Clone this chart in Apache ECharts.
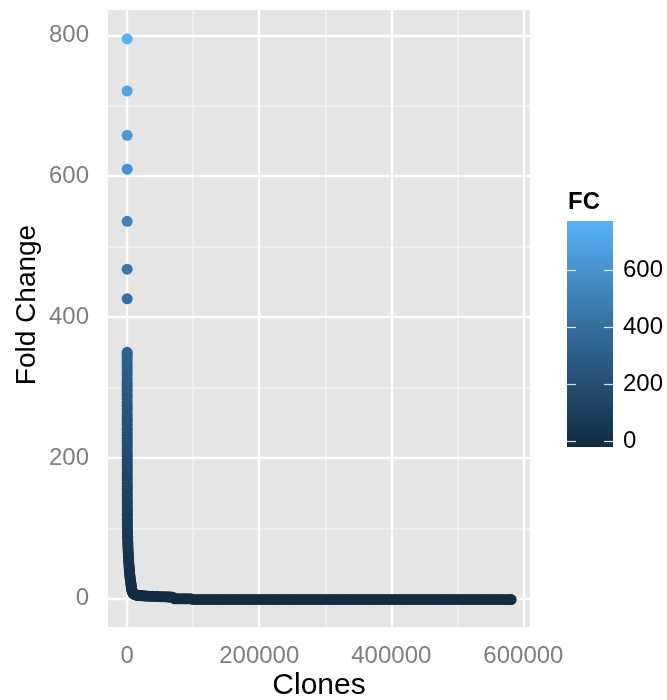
<!DOCTYPE html>
<html>
<head>
<meta charset="utf-8">
<script src="https://cdn.jsdelivr.net/npm/echarts@6/dist/echarts.min.js"></script>
<style>
  html, body { margin: 0; padding: 0; background: #ffffff; }
  #chart { width: 667px; height: 700px; }
</style>
</head>
<body>
<div id="chart"></div>
<script>
// Fold change per clone, clones ranked by decreasing fold change.
// The few top clones stand apart.
const headRank = [1, 2, 3, 4, 5, 6, 7];
const headFC = [795, 721, 658, 610, 536, 468, 426];

// Dense column of high fold changes near rank 0.
const stackRank = [8, 9, 10, 11, 12, 13, 14, 15, 16, 17, 18, 19, 20, 22, 24, 26, 28, 30, 32, 34,
  36, 38, 40, 43, 46, 49, 52, 55, 58, 61, 64, 68, 72, 76, 80, 84, 88, 92,
  97, 102, 108, 114, 120, 127, 134, 142, 150, 158, 167, 176, 186, 196, 207, 218, 230, 243, 256, 270,
  285, 300, 316, 333, 351, 370, 390,
  450, 520, 600, 690, 790, 900, 1020, 1150, 1290, 1440, 1600, 1770, 1950, 2140, 2340, 2550, 2770, 3000,
  3240, 3490, 3750, 4020, 4300, 4590, 4890, 5200];
const stackFC = [350, 347, 343, 339, 334, 330, 325, 321, 317, 312, 307, 304, 300, 296, 291, 288, 284, 279, 275, 271,
  268, 263, 259, 255, 252, 248, 243, 240, 236, 232, 228, 224, 221, 217, 213, 209, 205, 202,
  198, 194, 190, 187, 183, 179, 175, 172, 168, 164, 160, 157, 153, 149, 146, 142, 138, 135, 131, 127,
  124, 120, 117, 113, 110, 106, 103,
  99, 96, 92, 89, 86, 82, 79, 76, 73, 69, 66, 63, 60, 57, 54, 51, 48, 45,
  42, 40, 37, 34, 32, 29, 27, 25];

// Bend of the curve into the long low tail.
const kneeRank = [5500, 5750, 6000, 6250, 6500, 6800, 7100, 7400, 7800, 8200,
  8700, 9200, 9800, 10500, 11300, 12200, 13200, 14300, 15500, 17000,
  18500, 20000, 22000, 24000, 26500, 29000, 32000, 35000, 38000, 41000,
  44000, 47000, 50000, 53000, 56000, 59000, 62000, 64000, 66000, 69000];
const kneeFC = [23, 21, 19, 17, 15, 13.5, 12, 11, 10, 9.2,
  8.5, 7.9, 7.3, 6.8, 6.3, 5.9, 5.6, 5.3, 5.1, 4.9,
  4.7, 4.6, 4.4, 4.3, 4.1, 4, 3.8, 3.7, 3.5, 3.4,
  3.3, 3.2, 3.1, 3, 2.9, 2.8, 2.7, 2.6, 2.5, 2.4];

// Unchanged clones.
const shelfRank = [72000, 76000, 80000, 84000, 88000, 92000, 96000];
const shelfFC = [0, 0, 0, 0, 0, 0, 0];

// Clones that disappeared.
const tailRank = [100000, 105000, 110000, 115000, 120000, 125000, 130000, 135000, 140000, 145000,
  150000, 155000, 160000, 165000, 170000, 175000, 180000, 185000, 190000, 195000,
  200000, 205000, 210000, 215000, 220000, 225000, 230000, 235000, 240000, 245000,
  250000, 255000, 260000, 265000, 270000, 275000, 280000, 285000, 290000, 295000,
  300000, 305000, 310000, 315000, 320000, 325000, 330000, 335000, 340000, 345000,
  350000, 355000, 360000, 365000, 370000, 375000, 380000, 385000, 390000, 395000,
  400000, 405000, 410000, 415000, 420000, 425000, 430000, 435000, 440000, 445000,
  450000, 455000, 460000, 465000, 470000, 475000, 480000, 485000, 490000, 495000,
  500000, 505000, 510000, 515000, 520000, 525000, 530000, 535000, 540000, 545000,
  550000, 555000, 560000, 565000, 570000, 575000, 580000, 581500];
const tailFC = [-1, -1, -1, -1, -1, -1, -1, -1, -1, -1,
  -1, -1, -1, -1, -1, -1, -1, -1, -1, -1,
  -1, -1, -1, -1, -1, -1, -1, -1, -1, -1,
  -1, -1, -1, -1, -1, -1, -1, -1, -1, -1,
  -1, -1, -1, -1, -1, -1, -1, -1, -1, -1,
  -1, -1, -1, -1, -1, -1, -1, -1, -1, -1,
  -1, -1, -1, -1, -1, -1, -1, -1, -1, -1,
  -1, -1, -1, -1, -1, -1, -1, -1, -1, -1,
  -1, -1, -1, -1, -1, -1, -1, -1, -1, -1,
  -1, -1, -1, -1, -1, -1, -1, -1];

// Axis ticks and grid lines.
const xTicks = [0, 200000, 400000, 600000];
const xMinor = [100000, 300000, 500000];
const yTicks = [0, 200, 400, 600, 800];
const yMinor = [100, 300, 500, 700];
const legendTicks = [0, 200, 400, 600];

const fcMin = -1;
const fcMax = 795;
const palette = ['#132B43', '#336A98', '#56B1F7'];

function pairs(ranks, values) {
  return ranks.map((r, i) => [r, values[i]]);
}
const points = [].concat(
  pairs(tailRank, tailFC),
  pairs(shelfRank, shelfFC),
  pairs(kneeRank, kneeFC),
  pairs(stackRank, stackFC),
  pairs(headRank, headFC)
);

const font = 'Liberation Sans, Arial, Helvetica, sans-serif';
const tickGrey = '#7F7F7F';

// Colour bar geometry (legend).
const bar = { x: 567, y: 221, w: 46, h: 226 };
const halfBin = bar.h / 40;
const legendTop = 754; // value at the upper bin centre
function legendY(v) {
  const y0 = bar.y + bar.h - halfBin;
  const y1 = bar.y + halfBin;
  return y0 + (v - fcMin) / (legendTop - fcMin) * (y1 - y0);
}

const legendGraphics = [
  {
    type: 'text', left: bar.x + 1, top: 190,
    style: { text: 'FC', font: 'bold 24px ' + font, fill: '#000000' }
  },
  {
    type: 'rect',
    shape: { x: bar.x, y: bar.y, width: bar.w, height: bar.h },
    style: {
      fill: new echarts.graphic.LinearGradient(0, 1, 0, 0, [
        { offset: 0, color: palette[0] },
        { offset: 0.5, color: palette[1] },
        { offset: 1, color: palette[2] }
      ])
    }
  }
];
legendTicks.forEach(v => {
  const y = Math.round(legendY(v)) + 0.5;
  legendGraphics.push(
    { type: 'line', shape: { x1: bar.x, y1: y, x2: bar.x + 9, y2: y },
      style: { stroke: 'rgba(255,255,255,0.85)', lineWidth: 1.2 } },
    { type: 'line', shape: { x1: bar.x + bar.w - 9, y1: y, x2: bar.x + bar.w, y2: y },
      style: { stroke: 'rgba(255,255,255,0.85)', lineWidth: 1.2 } },
    { type: 'text', x: bar.x + bar.w + 10, y: y,
      style: { text: String(v), font: '24px ' + font, fill: '#000000',
               textAlign: 'left', textVerticalAlign: 'middle' } }
  );
});

const chart = echarts.init(document.getElementById('chart'), null, { renderer: 'canvas' });

chart.setOption({
  animation: false,
  backgroundColor: '#ffffff',
  grid: {
    left: 108, right: 137, top: 10, bottom: 73,
    show: true, backgroundColor: '#E5E5E5', borderWidth: 0
  },
  xAxis: {
    type: 'value',
    min: -29000, max: 610000,
    axisLine: { show: false },
    splitLine: { show: false },
    axisTick: { show: true, customValues: xTicks, length: 10,
                lineStyle: { color: tickGrey, width: 2 } },
    axisLabel: { customValues: xTicks, margin: 17, color: tickGrey,
                 fontSize: 24, fontFamily: font, formatter: v => String(v) }
  },
  yAxis: {
    type: 'value',
    min: -40, max: 836,
    axisLine: { show: false },
    splitLine: { show: false },
    axisTick: { show: true, customValues: yTicks, length: 10,
                lineStyle: { color: tickGrey, width: 2 } },
    axisLabel: { customValues: yTicks, margin: 19, color: tickGrey,
                 fontSize: 24, fontFamily: font, formatter: v => String(v) }
  },
  visualMap: {
    type: 'continuous',
    show: false,
    seriesIndex: 1,
    dimension: 1,
    min: fcMin, max: fcMax,
    inRange: { color: palette }
  },
  series: [
    {
      // panel grid lines, kept underneath the points
      type: 'line',
      data: [],
      z: 1,
      silent: true,
      markLine: {
        z: 1,
        silent: true,
        symbol: 'none',
        label: { show: false },
        emphasis: { disabled: true },
        animation: false,
        data: [].concat(
          xMinor.map(v => ({ xAxis: v, lineStyle: { color: '#F2F2F2', width: 1.6, type: 'solid' } })),
          yMinor.map(v => ({ yAxis: v, lineStyle: { color: '#F2F2F2', width: 1.6, type: 'solid' } })),
          xTicks.map(v => ({ xAxis: v, lineStyle: { color: '#FFFFFF', width: 2.4, type: 'solid' } })),
          yTicks.map(v => ({ yAxis: v, lineStyle: { color: '#FFFFFF', width: 2.4, type: 'solid' } }))
        )
      }
    },
    {
      type: 'scatter',
      z: 10,
      symbol: 'circle',
      symbolSize: 11,
      itemStyle: { opacity: 1 },
      emphasis: { disabled: true },
      data: points
    }
  ],
  graphic: [
    {
      type: 'text', x: 27, y: 305, rotation: Math.PI / 2,
      style: { text: 'Fold Change', font: '28px ' + font, fill: '#000000',
               textAlign: 'center', textVerticalAlign: 'middle' }
    },
    {
      type: 'text', x: 319, y: 686,
      style: { text: 'Clones', font: '30px ' + font, fill: '#000000',
               textAlign: 'center', textVerticalAlign: 'middle' }
    }
  ].concat(legendGraphics)
});
</script>
</body>
</html>
